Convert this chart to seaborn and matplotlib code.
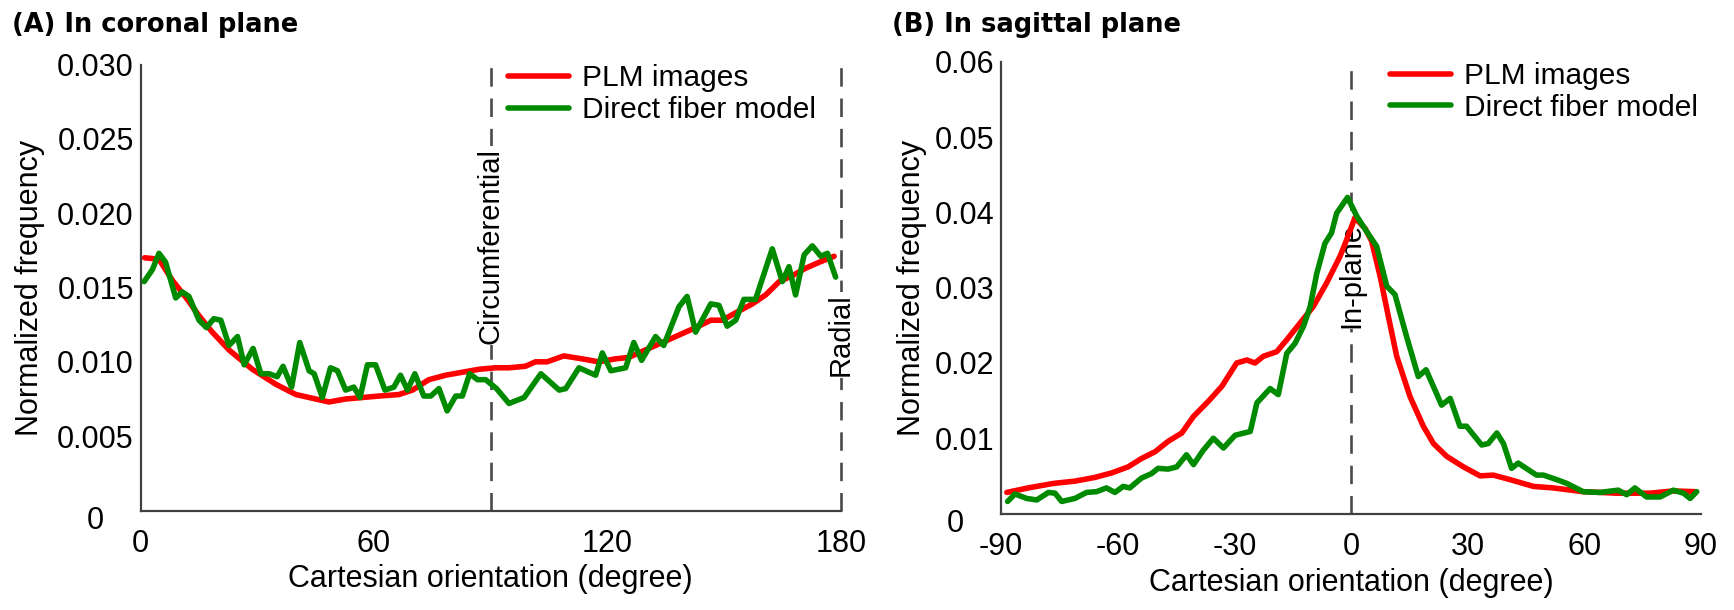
import numpy as np
import pandas as pd
import matplotlib
matplotlib.use("Agg")
import matplotlib.pyplot as plt
import matplotlib.transforms as mtransforms
import seaborn as sns

# ---------------- data ----------------
a_plm_x = [1, 4.7, 8.1, 12, 15, 18.4, 22.7, 28.7, 34.7, 39.9, 43.3, 48.4, 52.7, 57, 61.3,
           66.4, 69.9, 74.1, 78.4, 82.7, 87, 91.3, 94.7, 98.9, 101.5, 104.5, 108.8, 113.5,
           117.8, 122.1, 125.5, 129.8, 134.1, 138.4, 142.7, 146.6, 149.6, 153, 157.3, 160.7,
           164.2, 167.6, 171, 174.5, 178.3]
a_plm_y = [0.0170, 0.0169, 0.0155, 0.0142, 0.0131, 0.0120, 0.0108, 0.0095, 0.0085, 0.0078,
           0.0076, 0.0073, 0.0075, 0.0076, 0.0077, 0.0078, 0.0081, 0.0088, 0.0091, 0.0093,
           0.0095, 0.0096, 0.0096, 0.0097, 0.0100, 0.0100, 0.0104, 0.0102, 0.0100, 0.0102,
           0.0103, 0.0108, 0.0113, 0.0118, 0.0123, 0.0128, 0.0128, 0.0133, 0.0139, 0.0145,
           0.0154, 0.0158, 0.0163, 0.0167, 0.0171]

a_fib_x = [0.9, 3, 4.7, 6.4, 9, 10.7, 12.4, 15, 16.9, 18.8, 20.6, 22.7, 24.9, 26.6, 28.9,
           30.9, 33, 35.1, 36.6, 38.8, 40.9, 43.3, 44.6, 46.7, 48.8, 50.6, 52.7, 54.8, 56.4,
           58.3, 60.4, 62.8, 65.1, 66.8, 68.6, 70.5, 72.8, 74.6, 76.7, 78.8, 81, 82.7, 84.6,
           86.6, 88.7, 91.5, 94.7, 98.6, 102.9, 107.6, 109.3, 112.7, 117, 118.7, 120.9, 124.7,
           126.8, 128.8, 132.4, 134.5, 138.4, 140.5, 142.7, 146.6, 148.7, 150.8, 153, 155.1,
           158.1, 162.4, 165, 166.7, 168.4, 170.6, 172.7, 174.9, 176.6, 178.7]
a_fib_y = [0.0154, 0.0162, 0.0173, 0.0167, 0.0143, 0.0147, 0.0144, 0.0128, 0.0123, 0.0129,
           0.0128, 0.0111, 0.0117, 0.0098, 0.0109, 0.0092, 0.0092, 0.0090, 0.0097, 0.0083,
           0.0113, 0.0094, 0.0092, 0.0076, 0.0096, 0.0094, 0.0081, 0.0083, 0.0076, 0.0098,
           0.0098, 0.0081, 0.0083, 0.0091, 0.0081, 0.0092, 0.0077, 0.0077, 0.0082, 0.0067,
           0.0077, 0.0077, 0.0092, 0.0088, 0.0088, 0.0082, 0.0072, 0.0076, 0.0092, 0.0081,
           0.0082, 0.0096, 0.0091, 0.0106, 0.0094, 0.0096, 0.0113, 0.0101, 0.0117, 0.0111,
           0.0137, 0.0144, 0.0120, 0.0139, 0.0138, 0.0124, 0.0128, 0.0142, 0.0142, 0.0176,
           0.0154, 0.0164, 0.0145, 0.0172, 0.0178, 0.0171, 0.0173, 0.0157]

b_plm_x = [-88.5, -83, -76.5, -71, -65.8, -61.5, -57.3, -53.9, -50.4, -47, -43.5, -40.5,
           -36.7, -33.2, -29.4, -26.8, -24.7, -22.5, -19.1, -16.5, -13.1, -9.7, -6.3, -2.8,
           -1.1, 1.0, 3.6, 5.3, 7.5, 9.6, 11.75, 15.2, 18.6, 21.2, 24.6, 28.9, 33.2, 36.6,
           40.9, 46.9, 52, 59.7, 68.3, 76.9, 82.9, 88.5]
b_plm_y = [0.0028, 0.0034, 0.0040, 0.0043, 0.0048, 0.0054, 0.0062, 0.0073, 0.0082, 0.0096,
           0.0107, 0.0129, 0.0149, 0.0169, 0.0200, 0.0204, 0.0200, 0.0209, 0.0215, 0.0231,
           0.0253, 0.0275, 0.0306, 0.0342, 0.0364, 0.0393, 0.0379, 0.0362, 0.0315, 0.0262,
           0.0209, 0.0155, 0.0116, 0.0093, 0.0076, 0.0062, 0.0050, 0.0051, 0.0045, 0.0036,
           0.0034, 0.0029, 0.0027, 0.0027, 0.0030, 0.0029]

b_fib_x = [-88.3, -86.4, -83.4, -80.8, -77.8, -76.1, -74.4, -71, -68, -65.4, -62.9, -60.7,
           -58.6, -56.9, -53.9, -51.3, -49.6, -47, -44.8, -42.3, -40.5, -38, -35.4, -32.8,
           -29.8, -25.9, -24.2, -20.8, -18.7, -16.5, -14.4, -12.2, -10.5, -8.8, -6.7, -5,
           -3.7, -0.9, 1.5, 4.0, 6.6, 9.2, 11.3, 14.3, 17.3, 19.3, 23.3, 25.5, 28, 29.7,
           33.6, 35.3, 37.5, 39.2, 41.3, 43, 47.7, 49.5, 52.9, 55.5, 59.7, 64, 68.7, 70.9,
           73, 76, 79.5, 82.9, 85.5, 87.2, 88.9]
b_fib_y = [0.0016, 0.0026, 0.0020, 0.0018, 0.0028, 0.0027, 0.0016, 0.0020, 0.0028, 0.0029,
           0.0034, 0.0028, 0.0036, 0.0034, 0.0047, 0.0053, 0.0060, 0.0059, 0.0062, 0.0078,
           0.0065, 0.0084, 0.0100, 0.0087, 0.0104, 0.0109, 0.0147, 0.0166, 0.0158, 0.0213,
           0.0226, 0.0249, 0.0275, 0.0319, 0.0359, 0.0373, 0.0399, 0.0420, 0.0395, 0.0375,
           0.0355, 0.0302, 0.0291, 0.0235, 0.0182, 0.0191, 0.0144, 0.0153, 0.0116, 0.0116,
           0.0091, 0.0093, 0.0107, 0.0093, 0.0060, 0.0067, 0.0051, 0.0051, 0.0045, 0.0040,
           0.0029, 0.0028, 0.0031, 0.0025, 0.0034, 0.0022, 0.0022, 0.0031, 0.0027, 0.0020,
           0.0029]

series_names = ["PLM images", "Direct fiber model"]
series_colors = ["#ff0000", "#008a00"]

a_xticks = [0, 60, 120, 180]
a_yticks = [0, 0.005, 0.010, 0.015, 0.020, 0.025, 0.030]
a_yticklabels = ["0", "0.005", "0.010", "0.015", "0.020", "0.025", "0.030"]
b_xticks = [-90, -60, -30, 0, 30, 60, 90]
b_yticks = [0, 0.01, 0.02, 0.03, 0.04, 0.05, 0.06]
b_yticklabels = ["0", "0.01", "0.02", "0.03", "0.04", "0.05", "0.06"]

a_marks = [(90, "Circumferential", 0.0178), (180, "Radial", 0.0118)]
b_marks = [(0, "In-plane", 0.0317)]

titles = ["(A) In coronal plane", "(B) In sagittal plane"]
xlabel = "Cartesian orientation (degree)"
ylabel = "Normalized frequency"

# ---------------- style ----------------
sns.set_style("white")
plt.rcParams["font.family"] = ["Liberation Sans", "DejaVu Sans"]
plt.rcParams["text.color"] = "black"
plt.rcParams["axes.labelcolor"] = "black"
FS = 22
AX_COL = "#404040"
LW = 4.0

fig = plt.figure(figsize=(17.34, 6.10), dpi=100)
W, H = 1734, 610
axA = fig.add_axes([140.7 / W, 1 - 510.5 / H, 700 / W, 446 / H])
axB = fig.add_axes([1001 / W, 1 - 513.5 / H, 700 / W, 451.5 / H])


def draw_panel(ax, plm_x, plm_y, fib_x, fib_y, xlim, ylim, xticks, yticks, yticklabels,
               marks, ylab_x, legend_x):
    df = pd.concat([
        pd.DataFrame({"x": plm_x, "y": plm_y, "s": series_names[0]}),
        pd.DataFrame({"x": fib_x, "y": fib_y, "s": series_names[1]}),
    ])
    sns.lineplot(data=df, x="x", y="y", hue="s", palette=series_colors,
                 hue_order=series_names, ax=ax, lw=LW, sort=False, estimator=None,
                 zorder=4)
    for xv, txt, yv in marks:
        ax.axvline(xv, color="#4a4a4a", lw=1.9, ls=(0, (7, 4.5)), zorder=2, clip_on=False)
        ax.text(xv, yv, txt, rotation=90, ha="center", va="center", fontsize=21,
                color="black", zorder=3,
                bbox=dict(facecolor="white", edgecolor="none", pad=1))
    ax.set_xlim(*xlim)
    ax.set_ylim(*ylim)
    ax.set_xticks(xticks)
    ax.set_xticklabels([str(t) for t in xticks])
    ax.set_yticks(yticks)
    ax.set_yticklabels(yticklabels)
    for s in ["top", "right"]:
        ax.spines[s].set_visible(False)
    for s in ["left", "bottom"]:
        ax.spines[s].set_color(AX_COL)
        ax.spines[s].set_linewidth(1.6)
    ax.tick_params(axis="x", direction="in", length=12, width=1.5, color=AX_COL,
                   labelsize=FS, pad=13, labelcolor="black")
    ax.tick_params(axis="y", direction="in", length=9.5, width=1.5, color=AX_COL,
                   labelsize=FS, pad=5, labelcolor="black")
    ax.set_xlabel(xlabel, fontsize=FS, color="black")
    ax.set_ylabel(ylabel, fontsize=FS, color="black")
    ax.xaxis.set_label_coords(0.5, -0.12)
    ax.yaxis.set_label_coords(ylab_x, 0.5)
    # the "0" label on the y axis sits further left and a little lower
    t0 = ax.yaxis.get_major_ticks()[0]
    off = mtransforms.ScaledTranslation(-0.30, -0.07, fig.dpi_scale_trans)
    t0.label1.set_transform(t0.label1.get_transform() + off)
    leg = ax.legend(loc="upper left", bbox_to_anchor=(legend_x, 1.0), frameon=False,
                    fontsize=21.5, handlelength=2.05, handletextpad=0.42,
                    labelspacing=0.12, borderpad=0, borderaxespad=0)
    for lh in leg.get_lines():
        lh.set_linewidth(LW)
    for t in leg.get_texts():
        t.set_color("black")


draw_panel(axA, a_plm_x, a_plm_y, a_fib_x, a_fib_y, (0, 180), (0, 0.030), a_xticks,
           a_yticks, a_yticklabels, a_marks, -0.136, 0.525)
draw_panel(axB, b_plm_x, b_plm_y, b_fib_x, b_fib_y, (-90, 90), (0, 0.06), b_xticks,
           b_yticks, b_yticklabels, b_marks, -0.106, 0.556)

fig.text(12 / W, 1 - 32 / H, titles[0], fontsize=18.5, fontweight="bold",
         family=["DejaVu Sans"], va="baseline", ha="left", color="black")
fig.text(892 / W, 1 - 32 / H, titles[1], fontsize=18.5, fontweight="bold",
         family=["DejaVu Sans"], va="baseline", ha="left", color="black")

fig.savefig("out.png", dpi=100)
